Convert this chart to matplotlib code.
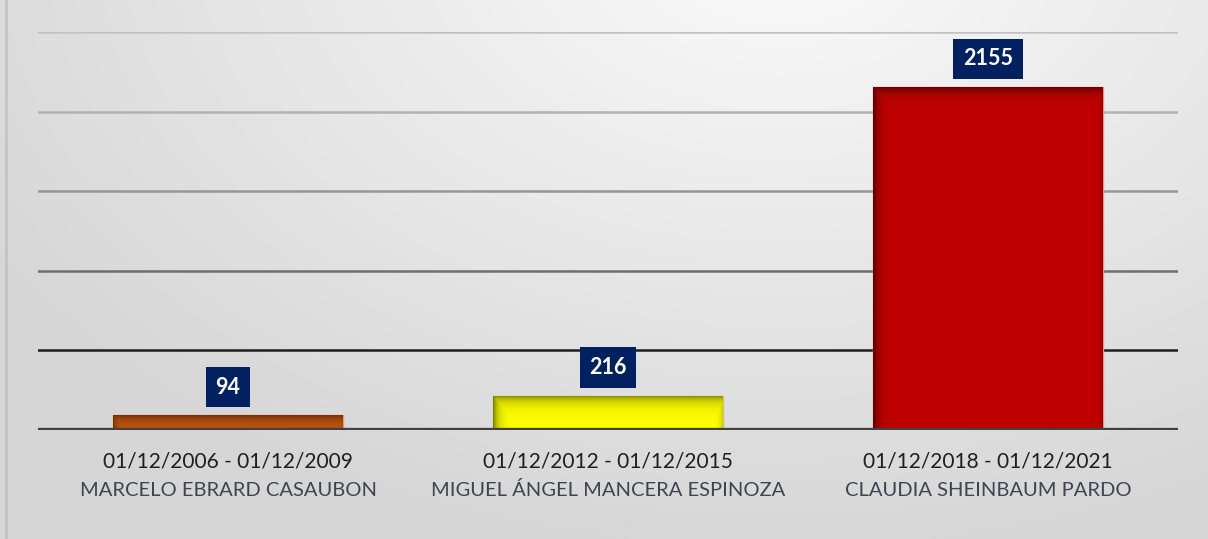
import numpy as np
import matplotlib
matplotlib.use("Agg")
import matplotlib.pyplot as plt
from matplotlib.colors import to_rgb

plt.rcParams['font.family'] = ['Lato', 'DejaVu Sans']

# datos
periodos = ['01/12/2006 - 01/12/2009', '01/12/2012 - 01/12/2015', '01/12/2018 - 01/12/2021']
nombres = ['MARCELO EBRARD CASAUBON', 'MIGUEL ÁNGEL MANCERA ESPINOZA', 'CLAUDIA SHEINBAUM PARDO']
valores = [94, 216, 2155]
colores = ['#c55a11', '#ffff00', '#c00000']
sombras = ['#7a3307', '#7f7f00', '#5c0000']
bordes = ['#d9a07a', '#c8c87a', '#e89090']
y_ticks = [500, 1000, 1500, 2000, 2500]
grid_colores = ['#1e1e1e', '#6e6e6e', '#969696', '#b2b2b2', '#c2c2c2']

W, H = 1208, 539
fig = plt.figure(figsize=(W / 100, H / 100), dpi=100)

# fondo con degradado
bg = fig.add_axes([0, 0, 1, 1], zorder=-1)
yy, xx = np.mgrid[0:H, 0:W]
dist = np.sqrt(((xx - 780) / 1.5) ** 2 + (yy + 60) ** 2)
t = np.clip(dist / 620, 0, 1)
grey = 0.985 - 0.145 * t
bg.imshow(np.dstack([grey, grey, grey]), extent=[0, W, H, 0], aspect='auto')
bg.plot([5.5, 5.5], [0, H], color='#c4c4c4', lw=2)
bg.set_xlim(0, W)
bg.set_ylim(H, 0)
bg.axis('off')

ax = fig.add_axes([38 / W, (H - 430) / H, 1140 / W, 398 / H])
ax.patch.set_alpha(0)
x = np.arange(len(valores))
ax.set_xlim(-0.5, len(valores) - 0.5)
ax.set_ylim(0, 2500)

for yv, c in zip(y_ticks, grid_colores):
    ax.axhline(yv, color=c, lw=1.8, zorder=1)
ax.axhline(0, color='#404040', lw=3.8, zorder=5)

bars = ax.bar(x, valores, width=0.605, color=colores, edgecolor=bordes, linewidth=1, zorder=3)

# sombra interior de cada barra
fig.canvas.draw()
for b, base, sh in zip(bars, colores, sombras):
    x0, y0 = b.get_x(), b.get_y()
    x1, y1 = x0 + b.get_width(), y0 + b.get_height()
    p0 = ax.transData.transform((x0, y0))
    p1 = ax.transData.transform((x1, y1))
    nx = max(int(p1[0] - p0[0]), 2)
    ny = max(int(p1[1] - p0[1]), 2)
    py, px = np.mgrid[0:ny, 0:nx]
    d = np.maximum.reduce([
        np.exp(-px / 5.0),
        np.exp(-py / 6.0),
        0.5 * np.exp(-(nx - px) / 3.0),
    ])
    c0 = np.array(to_rgb(base))
    c1 = np.array(to_rgb(sh))
    img = c0[None, None, :] * (1 - d[..., None]) + c1[None, None, :] * d[..., None]
    im = ax.imshow(img, extent=[x0, x1, y0, y1], origin='upper', aspect='auto', zorder=3.5)
    im.set_clip_path(b)

ax.set_xlim(-0.5, len(valores) - 0.5)
ax.set_ylim(0, 2500)

for xi, v in zip(x, valores):
    ax.annotate(str(v), (xi, v), xytext=(0, 28), textcoords='offset pixels',
                ha='center', va='center', color='white', fontsize=15.5, fontweight='bold',
                bbox=dict(boxstyle='square,pad=0.45', fc='#002060', ec='none'), zorder=6)

for xi, per, nom in zip(x, periodos, nombres):
    ax.annotate(per, (xi, 0), xycoords=('data', 'axes fraction'), xytext=(0, -32),
                textcoords='offset pixels', ha='center', va='center',
                fontsize=15, color='#1f1f1f')
    ax.annotate(nom, (xi, 0), xycoords=('data', 'axes fraction'), xytext=(0, -60),
                textcoords='offset pixels', ha='center', va='center',
                fontsize=14.5, color='#3e4550')

ax.set_xticks([])
ax.set_yticks([])
for s in ax.spines.values():
    s.set_visible(False)

fig.savefig('out.png', dpi=100)
